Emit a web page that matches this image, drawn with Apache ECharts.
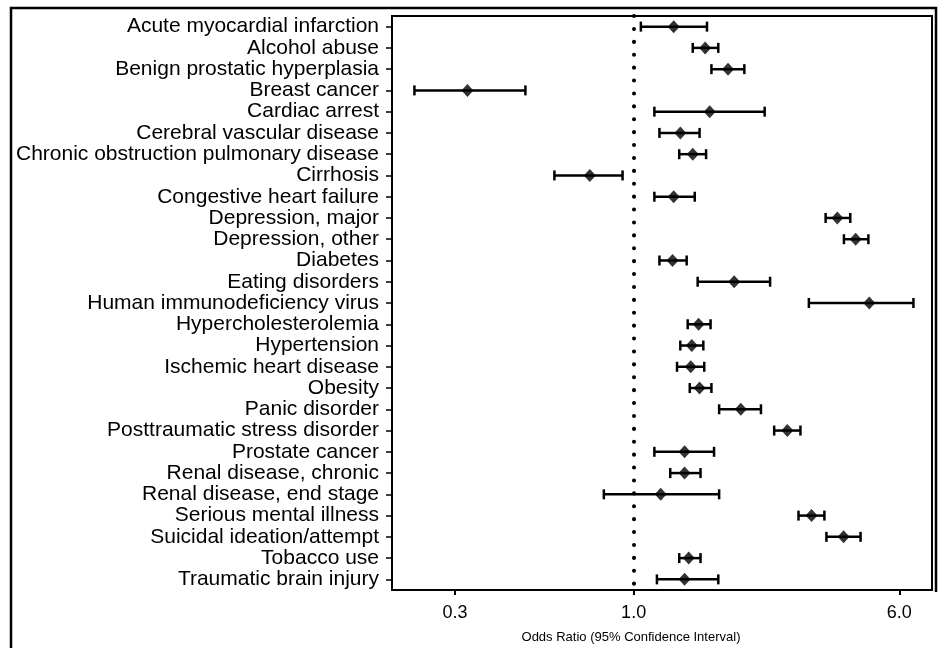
<!DOCTYPE html>
<html>
<head>
<meta charset="utf-8">
<script src="https://cdn.jsdelivr.net/npm/echarts@6/dist/echarts.min.js"></script>
<style>
  html, body { margin: 0; padding: 0; background: #fff; }
  #chart { width: 938px; height: 648px; }
</style>
</head>
<body>
<div id="chart"></div>
<script>
// Conditions, listed top to bottom
const conditions = [
  'Acute myocardial infarction', 'Alcohol abuse', 'Benign prostatic hyperplasia',
  'Breast cancer', 'Cardiac arrest', 'Cerebral vascular disease',
  'Chronic obstruction pulmonary disease', 'Cirrhosis', 'Congestive heart failure',
  'Depression, major', 'Depression, other', 'Diabetes', 'Eating disorders',
  'Human immunodeficiency virus', 'Hypercholesterolemia', 'Hypertension',
  'Ischemic heart disease', 'Obesity', 'Panic disorder',
  'Posttraumatic stress disorder', 'Prostate cancer', 'Renal disease, chronic',
  'Renal disease, end stage', 'Serious mental illness', 'Suicidal ideation/attempt',
  'Tobacco use', 'Traumatic brain injury'
];

// Odds ratios with 95% confidence limits
const oddsRatio = [1.31, 1.62, 1.89, 0.326, 1.67, 1.37, 1.49, 0.744, 1.31, 3.95, 4.47, 1.30, 1.97,
  4.90, 1.55, 1.48, 1.47, 1.56, 2.06, 2.82, 1.41, 1.41, 1.20, 3.32, 4.12, 1.45, 1.41];
const ciLower = [1.05, 1.49, 1.69, 0.228, 1.15, 1.19, 1.36, 0.586, 1.15, 3.65, 4.13, 1.19, 1.54,
  3.26, 1.44, 1.37, 1.34, 1.46, 1.78, 2.58, 1.15, 1.28, 0.818, 3.04, 3.67, 1.36, 1.17];
const ciUpper = [1.64, 1.77, 2.11, 0.482, 2.42, 1.56, 1.63, 0.928, 1.51, 4.31, 4.87, 1.43, 2.51,
  6.60, 1.68, 1.60, 1.61, 1.69, 2.36, 3.08, 1.72, 1.57, 1.78, 3.62, 4.62, 1.57, 1.77];

// Tick labels on the odds-ratio axis
const tickValues = [0.3, 1.0, 6.0];
const axisRange = [0.196, 7.48];

const lg = Math.log10;
const font = '"Liberation Sans", Arial, Helvetica, sans-serif';

const pointData = oddsRatio.map((v, i) => [lg(v), i]);
const ciData = ciLower.map((lo, i) => [lg(lo), lg(ciUpper[i]), i]);

const chart = echarts.init(document.getElementById('chart'), null, { renderer: 'canvas' });

chart.setOption({
  animation: false,
  backgroundColor: '#fff',
  grid: {
    left: 392, right: 6, top: 16, bottom: 58,
    show: true, borderColor: '#000', borderWidth: 2, backgroundColor: 'transparent'
  },
  xAxis: {
    type: 'value',
    min: lg(axisRange[0]),
    max: lg(axisRange[1]),
    splitLine: { show: false },
    axisLine: { show: true, lineStyle: { color: '#000', width: 2 } },
    axisTick: {
      show: true, length: 5, lineStyle: { color: '#000', width: 2 },
      customValues: tickValues.map(lg)
    },
    axisLabel: {
      customValues: tickValues.map(lg),
      formatter: v => Math.pow(10, v).toFixed(1),
      color: '#000', fontSize: 18, fontFamily: font, margin: 14
    }
  },
  yAxis: {
    type: 'category',
    inverse: true,
    data: conditions,
    axisLine: { show: true, onZero: false, lineStyle: { color: '#000', width: 2 } },
    axisTick: { show: true, alignWithLabel: true, length: 6, lineStyle: { color: '#000', width: 1.5 } },
    axisLabel: { color: '#000', fontSize: 21, fontFamily: font, margin: 13, interval: 0 },
    splitLine: { show: false }
  },
  graphic: [
    {
      type: 'polyline',
      shape: { points: [[11, 648], [11, 8], [936, 8], [936, 592]] },
      style: { stroke: '#000', lineWidth: 2.5, fill: null },
      silent: true
    },
    {
      type: 'text',
      x: 631, y: 637,
      style: {
        text: 'Odds Ratio (95% Confidence Interval)',
        font: '13px ' + font,
        fill: '#000',
        align: 'center',
        verticalAlign: 'middle'
      }
    }
  ],
  series: [
    {
      type: 'custom',
      name: '95% CI',
      data: ciData,
      encode: { x: [0, 1], y: 2 },
      renderItem: (params, api) => {
        const y = api.value(2);
        const p0 = api.coord([api.value(0), y]);
        const p1 = api.coord([api.value(1), y]);
        const h = 5;
        const style = { stroke: '#000', lineWidth: 2.5 };
        return {
          type: 'group',
          children: [
            { type: 'line', shape: { x1: p0[0], y1: p0[1], x2: p1[0], y2: p1[1] }, style },
            { type: 'line', shape: { x1: p0[0], y1: p0[1] - h, x2: p0[0], y2: p0[1] + h }, style },
            { type: 'line', shape: { x1: p1[0], y1: p1[1] - h, x2: p1[0], y2: p1[1] + h }, style }
          ]
        };
      },
      z: 2
    },
    {
      type: 'scatter',
      name: 'Odds ratio',
      data: pointData,
      symbol: 'diamond',
      symbolSize: [12, 13],
      itemStyle: { color: '#000' },
      z: 3,
      markLine: {
        silent: true,
        symbol: ['none', 'none'],
        label: { show: false },
        lineStyle: { color: '#000', width: 4, type: [0.1, 12.8], cap: 'round' },
        data: [{ xAxis: 0 }]
      }
    }
  ]
});
</script>
</body>
</html>
